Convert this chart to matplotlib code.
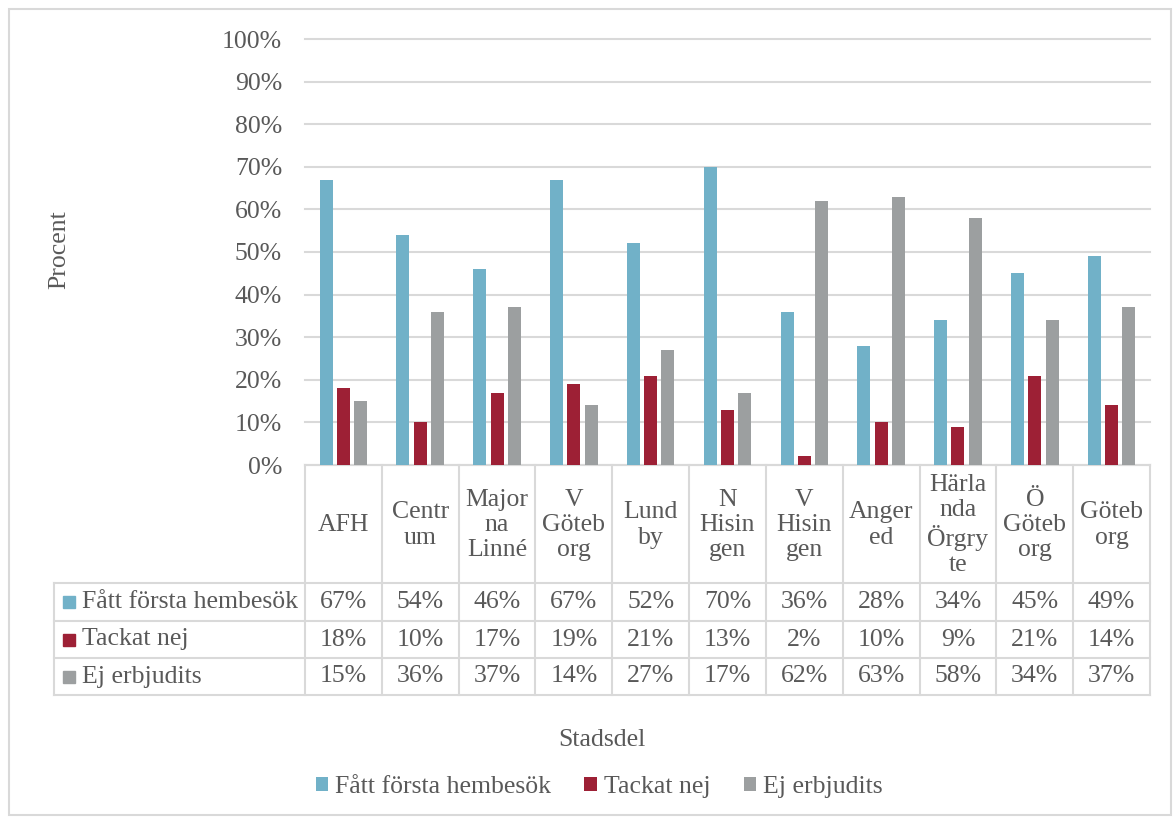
import matplotlib
matplotlib.use("Agg")
import matplotlib.pyplot as plt
import numpy as np
from matplotlib.patches import Rectangle

# Stadsdelar (header cells are wrapped the way the table shows them)
stadsdelar = ["AFH", "Centr\num", "Major\nna\nLinné", "V\nGöteb\norg", "Lund\nby",
              "N\nHisin\ngen", "V\nHisin\ngen", "Anger\ned", "Härla\nnda\nÖrgry\nte",
              "Ö\nGöteb\norg", "Göteb\norg"]

serie_namn = ["Fått första hembesök", "Tackat nej", "Ej erbjudits"]
fatt_hembesok = [67, 54, 46, 67, 52, 70, 36, 28, 34, 45, 49]
tackat_nej = [18, 10, 17, 19, 21, 13, 2, 10, 9, 21, 14]
ej_erbjudits = [15, 36, 37, 14, 27, 17, 62, 63, 58, 34, 37]

y_ticks = list(range(0, 101, 10))

colors = ["#71b1c8", "#9d2035", "#9c9fa0"]
text_col = "#595959"
line_col = "#d9d9d9"
font = "Liberation Serif"
fs = 18.5

W, H = 1174, 817
fig = plt.figure(figsize=(W / 100, H / 100), dpi=100)

# pixel overlay for frame, table and labels
ov = fig.add_axes([0, 0, 1, 1])
ov.set_xlim(0, W)
ov.set_ylim(H, 0)
ov.axis("off")

# plot area in pixels
px0, px1 = 305, 1150
py_top, py_bot = 39, 465

ax = fig.add_axes([px0 / W, 1 - py_bot / H, (px1 - px0) / W, (py_bot - py_top) / H])
n = len(stadsdelar)
x = np.arange(n)
bw = 0.17
series = [fatt_hembesok, tackat_nej, ej_erbjudits]
handles = []
for i, (vals, c) in enumerate(zip(series, colors)):
    h = ax.bar(x + (i - 1) * 0.225, vals, width=bw, color=c, zorder=3)
    handles.append(h)
ax.set_xlim(-0.5, n - 0.5)
ax.set_ylim(0, 100)
ax.set_yticks(y_ticks)
ax.set_yticklabels([f"{t}%" for t in y_ticks], fontfamily=font, fontsize=fs, color=text_col)
ax.tick_params(axis="y", length=0, pad=16.5)
ax.set_xticks([])
ax.grid(axis="y", color=line_col, linewidth=1.5, zorder=0)
for gl in ax.get_ygridlines():
    gl.set_clip_on(False)
for s in ax.spines.values():
    s.set_visible(False)
ax.patch.set_alpha(0)

# outer frame
ov.add_patch(Rectangle((9, 9), 1162, 806, fill=False, edgecolor=line_col, linewidth=1.5))

# data table
col_w = (px1 - px0) / n
head_bot = 583
row_edges = [583, 621, 658, 695]
lab_x0 = 54
lw = 1.5
ov.plot([px0, px1], [py_bot, py_bot], color=line_col, lw=lw)
for yy in row_edges:
    ov.plot([lab_x0, px1], [yy, yy], color=line_col, lw=lw)
for k in range(n + 1):
    xx = px0 + k * col_w
    ov.plot([xx, xx], [py_bot, row_edges[-1]], color=line_col, lw=lw)
ov.plot([lab_x0, lab_x0], [head_bot, row_edges[-1]], color=line_col, lw=lw)

for k, name in enumerate(stadsdelar):
    cx = px0 + (k + 0.5) * col_w
    ov.text(cx, (py_bot + head_bot) / 2 + 1, name, ha="center", va="center",
            fontfamily=font, fontsize=fs, color=text_col, linespacing=1.18)

for r, (vals, nm, c) in enumerate(zip(series, serie_namn, colors)):
    cy = (row_edges[r] + row_edges[r + 1]) / 2
    ov.add_patch(Rectangle((63, cy - 6), 12, 12, color=c))
    ov.text(82, cy, nm, ha="left", va="center", fontfamily=font, fontsize=fs, color=text_col)
    for k, v in enumerate(vals):
        cx = px0 + (k + 0.5) * col_w
        ov.text(cx, cy, f"{v}%", ha="center", va="center",
                fontfamily=font, fontsize=fs, color=text_col)

# axis titles
ov.text(59, 250, "Procent", rotation=90, ha="center", va="center",
        fontfamily=font, fontsize=fs, color=text_col)
ov.text(602, 740, "Stadsdel", ha="center", va="center",
        fontfamily=font, fontsize=fs, color=text_col)

# legend
leg = fig.legend(handles, serie_namn, loc="center", bbox_to_anchor=(599 / W, 1 - 787 / H),
                 ncol=3, frameon=False, handlelength=0.5, handleheight=0.5,
                 handletextpad=0.25, columnspacing=1.3,
                 prop={"family": font, "size": fs})
for t in leg.get_texts():
    t.set_color(text_col)

fig.savefig("out.png", dpi=100, facecolor="white")
